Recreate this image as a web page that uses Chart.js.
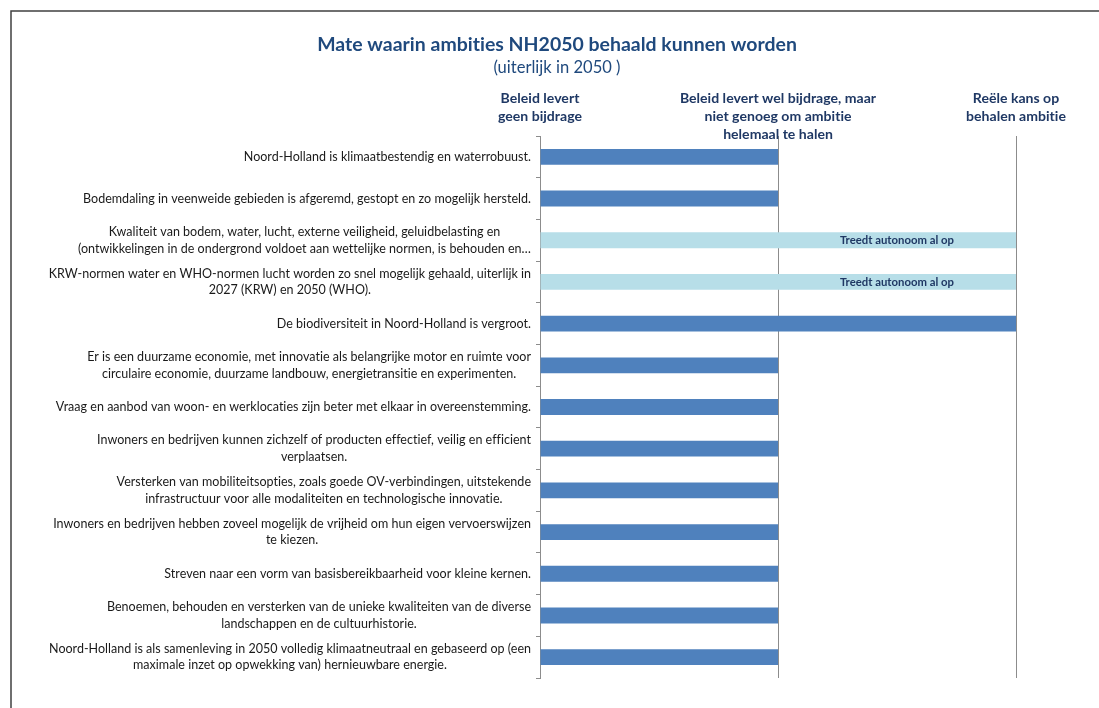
<!doctype html>
<html>
  <head>
    <script src="https://cdn.jsdelivr.net/npm/chart.js"></script>
    <title>Mate waarin ambities NH2050 behaald kunnen worden</title>
    <style>
      body { margin: 0; background: #fff; }
    </style>
  </head>
  <body>
    <canvas id="drawhere" width="1099" height="708"></canvas>
    <script>
      // ambities (y-as), van boven naar beneden
      var ambities = [
        "Noord-Holland is klimaatbestendig en waterrobuust.",
        "Bodemdaling in veenweide gebieden is afgeremd, gestopt en zo mogelijk hersteld.",
        ["Kwaliteit van bodem, water, lucht, externe veiligheid, geluidbelasting en", "(ontwikkelingen in de ondergrond voldoet aan wettelijke normen, is behouden en\u2026"],
        ["KRW-normen water en WHO-normen lucht worden zo snel mogelijk gehaald, uiterlijk in", "2027 (KRW) en 2050 (WHO)."],
        "De biodiversiteit in Noord-Holland is vergroot.",
        ["Er is een duurzame economie, met innovatie als belangrijke motor en ruimte voor", "circulaire economie, duurzame landbouw, energietransitie en experimenten."],
        "Vraag en aanbod van woon- en werklocaties zijn beter met elkaar in overeenstemming.",
        ["Inwoners en bedrijven kunnen zichzelf of producten effectief, veilig en efficient", "verplaatsen."],
        ["Versterken van mobiliteitsopties, zoals goede OV-verbindingen, uitstekende", "infrastructuur voor alle modaliteiten en technologische innovatie."],
        ["Inwoners en bedrijven hebben zoveel mogelijk de vrijheid om hun eigen vervoerswijzen", "te kiezen."],
        "Streven naar een vorm van basisbereikbaarheid voor kleine kernen.",
        ["Benoemen, behouden en versterken van de unieke kwaliteiten van de diverse", "landschappen en de cultuurhistorie."],
        ["Noord-Holland is als samenleving in 2050 volledig klimaatneutraal en gebaseerd op (een", "maximale inzet op opwekking van) hernieuwbare energie."]
      ];

      // beleid draagt bij (donkerblauw)
      var beleid = [1, 1, 0, 0, 2, 1, 1, 1, 1, 1, 1, 1, 1];
      // treedt autonoom op (lichtblauw), twee stukken
      var autonoomDeel1 = [0, 0, 1, 1, 0, 0, 0, 0, 0, 0, 0, 0, 0];
      var autonoomDeel2 = [0, 0, 1, 1, 0, 0, 0, 0, 0, 0, 0, 0, 0];
      var autonoomTekst = "Treedt autonoom al op";

      // kopjes boven de x-as op 0, 1 en 2
      var xKoppen = [
        ["Beleid levert", "geen bijdrage"],
        ["Beleid levert wel bijdrage, maar", "niet genoeg om ambitie", "helemaal te halen"],
        ["Re\u00eble kans op", "behalen ambitie"]
      ];
      var xWaarden = [0, 1, 2];

      var titel = "Mate waarin ambities NH2050 behaald kunnen worden";
      var subtitel = "(uiterlijk in 2050 )";

      var FAM = "Lato, 'Open Sans', sans-serif";
      var tmp = document.createElement("canvas").getContext("2d");
      function fitsize(text, w, weight, base){
        tmp.font = weight + " " + base + "px " + FAM;
        return base * w / tmp.measureText(text).width;
      }
      var lblSize = fitsize(ambities[0], 287, "normal", 13);
      var headSize = fitsize(xKoppen[1][0], 196, "bold", 14);
      var titleSize = fitsize(titel, 480, "bold", 19);
      var subSize = fitsize(subtitel, 127, "normal", 15);
      var barLblSize = fitsize(autonoomTekst, 114, "bold", 11);

      var tekstPlugin = {
        id: 'tekst',
        beforeDraw: function(chart){
          var ctx = chart.ctx;
          ctx.save();
          ctx.strokeStyle = '#404040';
          ctx.lineWidth = 1.5;
          ctx.beginPath();
          ctx.moveTo(11, 708);
          ctx.lineTo(11, 11);
          ctx.lineTo(1099, 11);
          ctx.stroke();
          ctx.restore();
        },
        afterDraw: function(chart){
          var ctx = chart.ctx;
          var xs = chart.scales.x, ys = chart.scales.y;
          ctx.save();
          ctx.textBaseline = 'middle';
          ctx.textAlign = 'center';
          ctx.letterSpacing = '0.01px'; // geen ti-ligatuur

          ctx.fillStyle = '#1F497D';
          ctx.font = "bold " + titleSize + "px " + FAM;
          ctx.fillText(titel, 557, 45);
          ctx.font = "normal " + subSize + "px " + FAM;
          ctx.fillText(subtitel, 557, 68);

          ctx.fillStyle = '#1F3864';
          ctx.font = "bold " + headSize + "px " + FAM;
          xKoppen.forEach(function(regels, i){
            var px = xs.getPixelForValue(xWaarden[i]);
            regels.forEach(function(r, j){
              ctx.fillText(r, px, 98 + j * 18);
            });
          });

          // labels van de y-as: blok rechts uitgelijnd, regels gecentreerd
          ctx.fillStyle = '#1a1a1a';
          ctx.font = "normal " + lblSize + "px " + FAM;
          var rechts = ys.left + ys.width - 9;
          ambities.forEach(function(a, i){
            var regels = Array.isArray(a) ? a : [a];
            var w = 0;
            regels.forEach(function(r){ w = Math.max(w, ctx.measureText(r).width); });
            var cx = rechts - w / 2;
            var py = ys.getPixelForTick(i);
            var lh = 16.5;
            regels.forEach(function(r, j){
              ctx.fillText(r, cx, py + (j - (regels.length - 1) / 2) * lh);
            });
          });

          // tekst in de lichtblauwe balken
          ctx.fillStyle = '#1F3864';
          ctx.font = "bold " + barLblSize + "px " + FAM;
          var meta = chart.getDatasetMeta(2);
          meta.data.forEach(function(bar, i){
            if (autonoomDeel2[i] > 0) {
              var cxb = (bar.x + bar.base) / 2;
              ctx.fillText(autonoomTekst, cxb, bar.y + 0.5);
            }
          });
          ctx.restore();
        }
      };

      var thechart = new Chart(document.getElementById("drawhere"), {
        type: 'bar',
        data: {
          labels: ambities,
          datasets: [
            { label: 'Beleid', data: beleid, backgroundColor: '#4F81BD', borderWidth: 0 },
            { label: 'Autonoom 1', data: autonoomDeel1, backgroundColor: '#B7DEE8', borderWidth: 0 },
            { label: 'Autonoom 2', data: autonoomDeel2, backgroundColor: '#B7DEE8', borderWidth: 0 }
          ]
        },
        options: {
          indexAxis: 'y',
          responsive: false,
          animation: false,
          devicePixelRatio: 1,
          barPercentage: 0.38,
          categoryPercentage: 1,
          layout: { padding: { top: 136, right: 83, bottom: 30, left: 0 } },
          plugins: {
            legend: { display: false },
            tooltip: { enabled: false }
          },
          scales: {
            x: {
              type: 'linear',
              stacked: true,
              min: 0,
              max: 2,
              ticks: { display: false, stepSize: 1 },
              grid: { color: '#8c8c8c', drawTicks: false },
              border: { display: false }
            },
            y: {
              stacked: true,
              ticks: { display: false },
              grid: { offset: true, drawOnChartArea: false, drawTicks: true, tickLength: 4, color: '#8c8c8c' },
              border: { color: '#8c8c8c' },
              afterFit: function(s){ s.width = 540; }
            }
          }
        },
        plugins: [tekstPlugin]
      });
    </script>
  </body>
</html>
